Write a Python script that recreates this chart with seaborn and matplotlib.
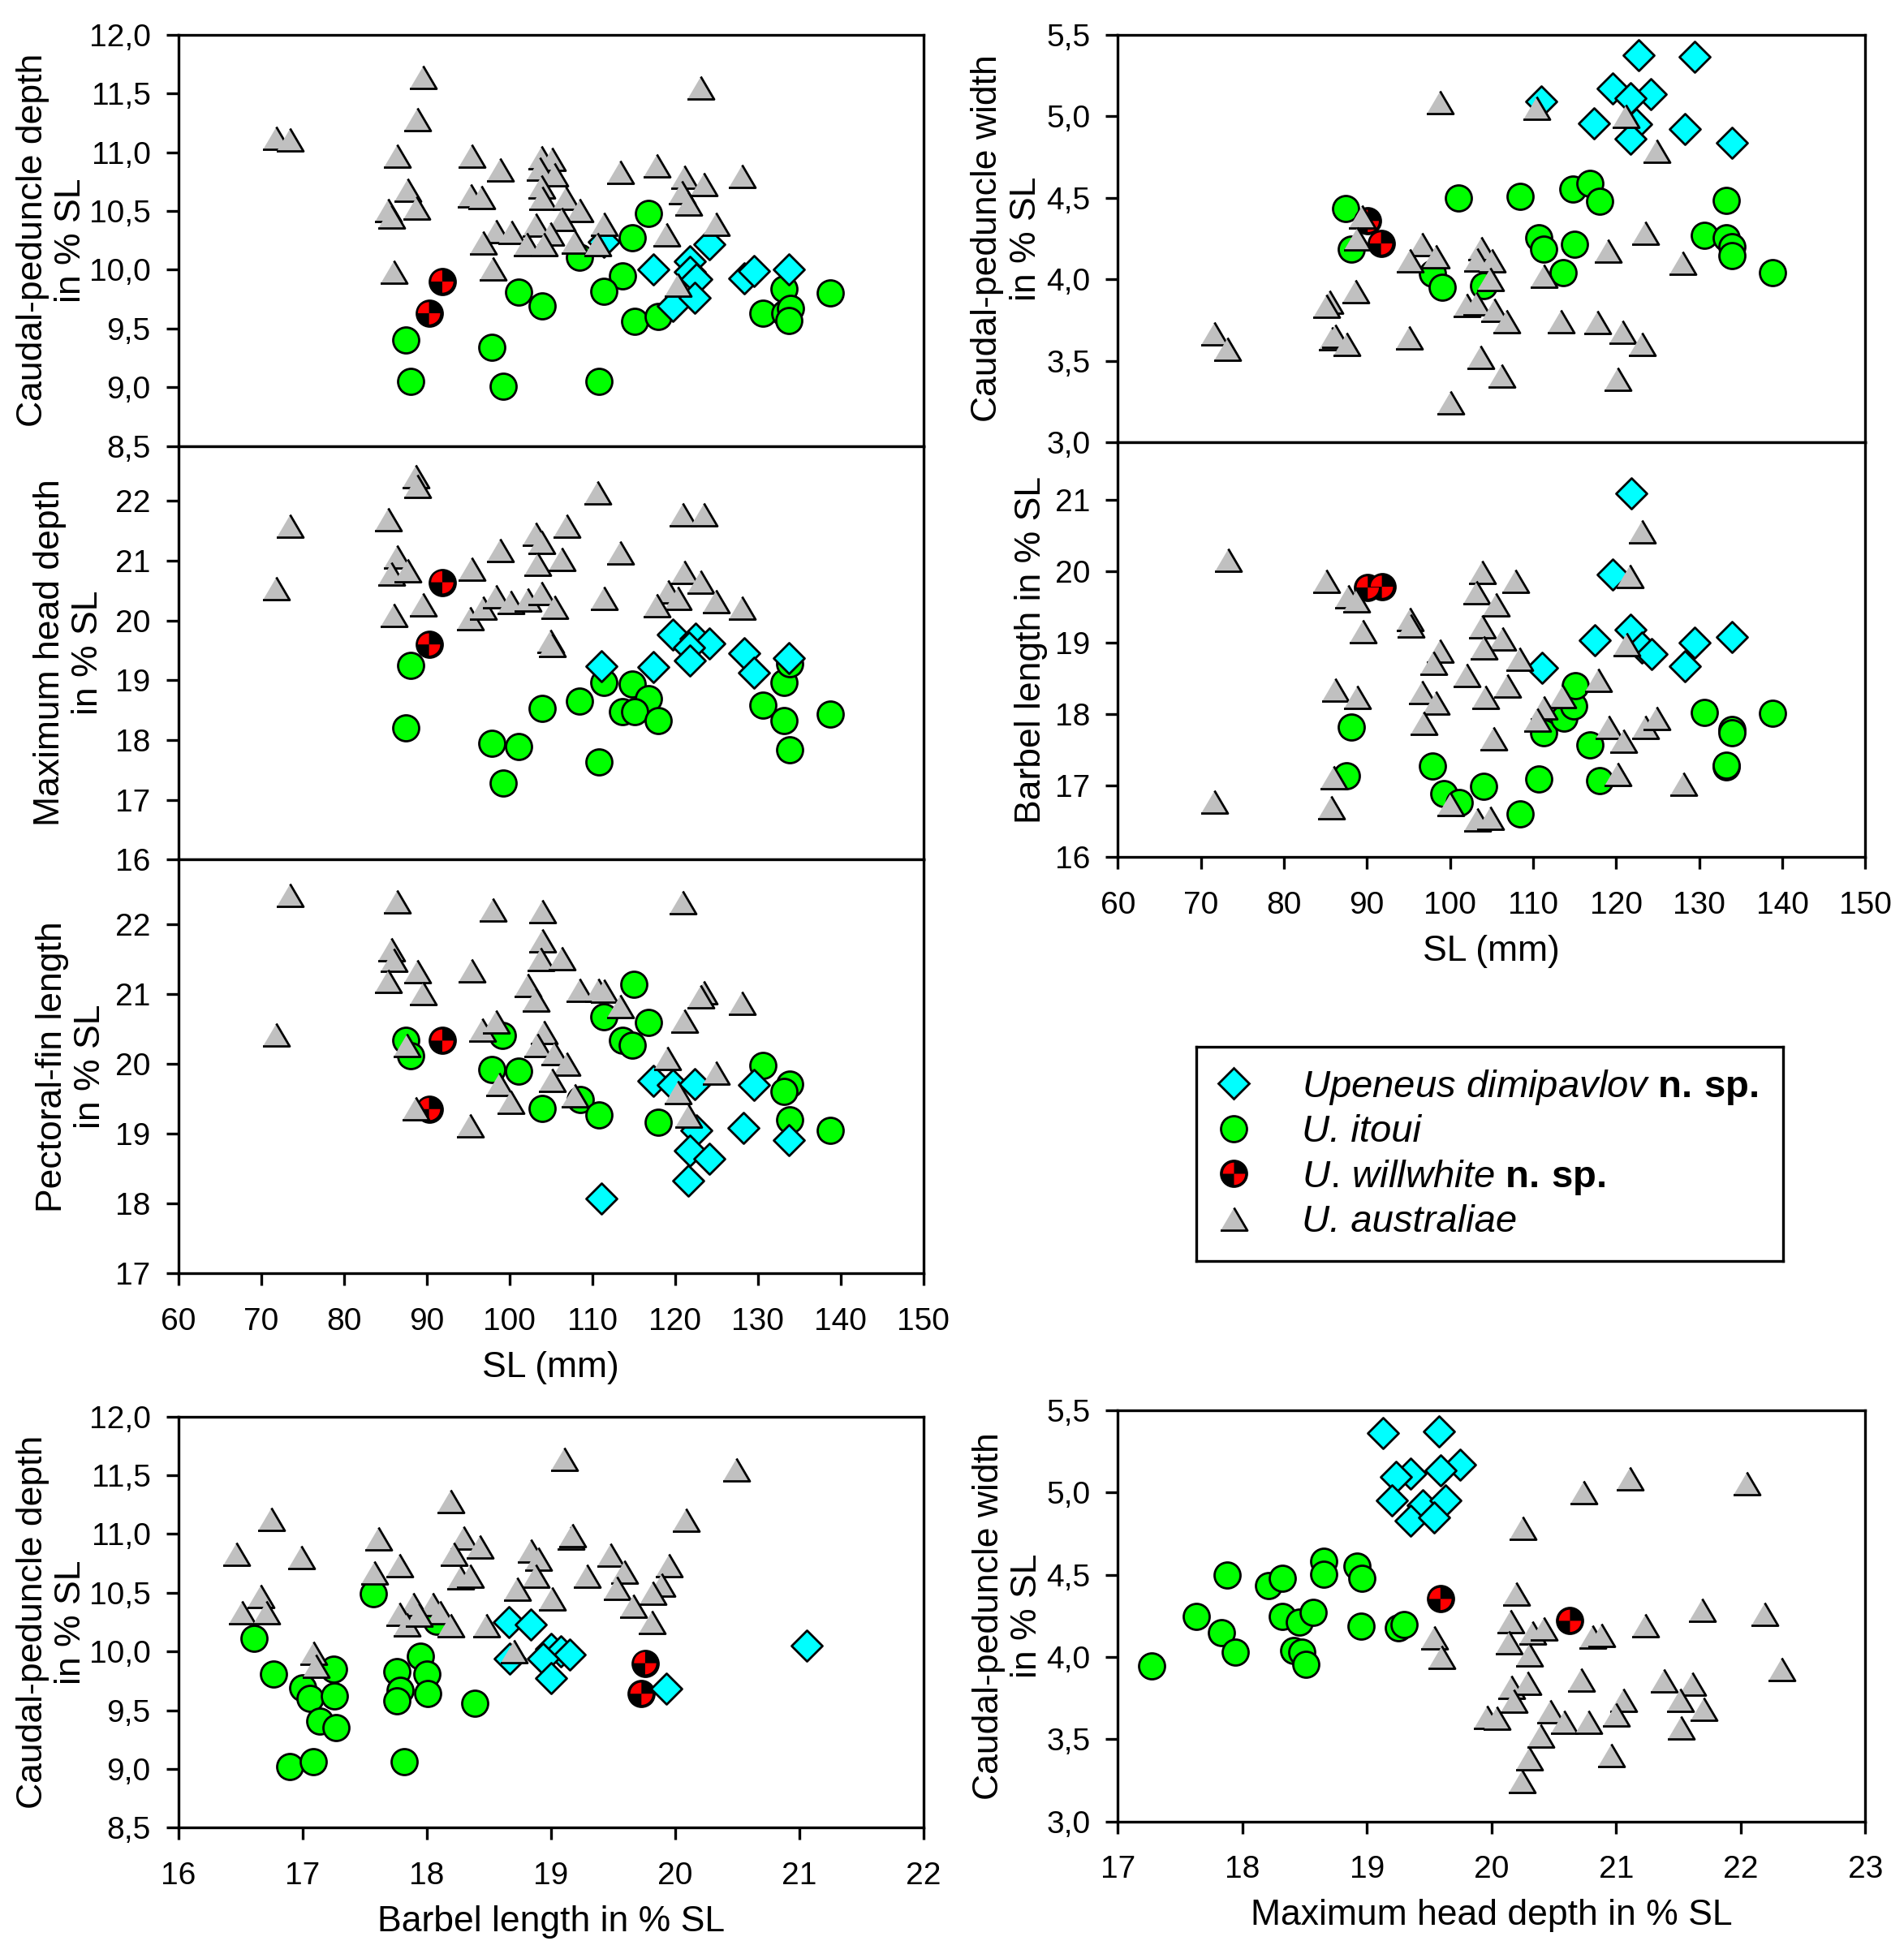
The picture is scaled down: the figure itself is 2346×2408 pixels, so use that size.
import numpy as np
import matplotlib
matplotlib.use("Agg")
import matplotlib.pyplot as plt
from matplotlib.path import Path
from matplotlib.lines import Line2D
from matplotlib.ticker import FuncFormatter
import seaborn as sns

sns.set_style("ticks", {"axes.edgecolor": "black", "xtick.color": "black",
                        "ytick.color": "black", "text.color": "black",
                        "axes.labelcolor": "black"})
plt.rcParams["font.family"] = ["Liberation Sans", "DejaVu Sans"]
plt.rcParams["mathtext.fontset"] = "custom"
plt.rcParams["mathtext.rm"] = "Liberation Sans"
plt.rcParams["mathtext.it"] = "Liberation Sans:italic"
plt.rcParams["mathtext.bf"] = "Liberation Sans:bold"

# ---------------- data ----------------
# caudal-peduncle depth (% SL) vs SL (mm)
cpd_sl_dimi = [(117.4, 10.00), (121.8, 10.07), (121.8, 9.98), (122.6, 9.92), (124.2, 10.22), (119.7, 9.69),
               (122.4, 9.76), (128.4, 9.93), (129.5, 9.99), (133.8, 10.00), (111.4, 10.24)]
cpd_sl_itoui = [(116.8, 10.48), (114.8, 10.27), (108.5, 10.11), (113.7, 9.95), (111.4, 9.82), (101.1, 9.81),
                (104.0, 9.69), (115.1, 9.56), (118.0, 9.60), (133.2, 9.84), (130.6, 9.63), (133.3, 9.63),
                (134.0, 9.67), (133.8, 9.57), (138.8, 9.80), (87.5, 9.40), (97.9, 9.34), (88.1, 9.05),
                (99.3, 9.01), (110.8, 9.05)]
cpd_sl_will = [(91.9, 9.90), (90.3, 9.63)]
cpd_sl_aus = [(71.8, 11.12), (73.5, 11.11), (89.6, 11.64), (88.9, 11.28), (86.4, 10.97), (87.7, 10.68),
              (88.8, 10.53), (85.3, 10.51), (85.7, 10.45), (86.0, 9.98), (95.4, 10.97), (95.3, 10.63),
              (96.6, 10.62), (98.9, 10.85), (98.0, 10.01), (98.4, 10.33), (100.2, 10.32), (96.8, 10.23),
              (103.9, 10.96), (105.1, 10.94), (103.7, 10.86), (105.4, 10.81), (103.9, 10.71), (104.0, 10.61),
              (106.8, 10.61), (108.5, 10.51), (106.3, 10.43), (103.2, 10.38), (104.9, 10.31), (102.1, 10.22),
              (104.2, 10.22), (107.9, 10.24), (111.4, 10.39), (110.6, 10.22), (113.4, 10.83), (117.8, 10.89),
              (121.1, 10.79), (123.5, 10.73), (120.8, 10.66), (121.6, 10.56), (128.1, 10.80), (123.1, 11.55),
              (119.0, 10.30), (124.9, 10.39), (120.3, 9.87)]

# maximum head depth (% SL) vs SL
mhd_sl_dimi = [(111.1, 19.24), (117.4, 19.22), (119.7, 19.77), (122.5, 19.70), (124.2, 19.61), (121.7, 19.55),
               (121.8, 19.33), (128.4, 19.46), (129.5, 19.13), (133.8, 19.37)]
mhd_sl_itoui = [(88.1, 19.25), (87.5, 18.21), (97.9, 17.94), (101.1, 17.89), (99.3, 17.28), (104.0, 18.53),
                (108.5, 18.65), (110.8, 17.63), (111.4, 18.96), (114.8, 18.94), (116.8, 18.69), (113.7, 18.48),
                (115.1, 18.47), (118.0, 18.32), (133.2, 18.97), (130.6, 18.59), (133.2, 18.33), (133.9, 17.84),
                (138.8, 18.43), (133.9, 19.28)]
mhd_sl_will = [(91.9, 20.64), (90.3, 19.60)]
mhd_sl_aus = [(71.8, 20.54), (73.5, 21.59), (88.7, 22.41), (88.9, 22.25), (85.3, 21.69), (86.4, 21.07),
              (85.7, 20.78), (87.7, 20.84), (89.6, 20.27), (86.0, 20.09), (95.4, 20.87), (95.2, 20.04),
              (96.8, 20.22), (98.4, 20.40), (100.1, 20.31), (102.2, 20.35), (103.9, 20.46), (105.4, 20.23),
              (98.9, 21.18), (103.2, 21.45), (103.9, 21.31), (106.9, 21.59), (103.4, 20.94), (106.3, 21.03),
              (104.9, 19.66), (105.1, 19.59), (110.6, 22.14), (113.4, 21.14), (111.4, 20.38), (120.9, 21.78),
              (123.5, 21.77), (121.1, 20.81), (123.1, 20.65), (119.2, 20.48), (120.3, 20.37), (117.8, 20.25),
              (124.9, 20.32), (128.1, 20.21)]

# pectoral-fin length (% SL) vs SL
pfl_sl_dimi = [(111.1, 18.07), (117.4, 19.75), (119.7, 19.69), (122.4, 19.71), (129.5, 19.69), (122.6, 19.04),
               (121.8, 18.76), (124.2, 18.64), (121.6, 18.32), (128.3, 19.08), (133.8, 18.91)]
pfl_sl_itoui = [(115.0, 21.14), (111.4, 20.67), (116.8, 20.59), (113.7, 20.33), (114.8, 20.27), (99.2, 20.40),
                (87.5, 20.34), (88.1, 20.11), (97.9, 19.92), (101.1, 19.89), (104.0, 19.36), (108.6, 19.49),
                (110.8, 19.27), (118.0, 19.16), (130.6, 19.97), (133.9, 19.71), (133.2, 19.60), (133.9, 19.20),
                (138.8, 19.04)]
pfl_sl_will = [(91.9, 20.33), (90.3, 19.35)]
pfl_sl_aus = [(73.5, 22.41), (71.8, 20.42), (86.4, 22.32), (85.7, 21.64), (86.0, 21.48), (85.3, 21.18),
              (88.9, 21.32), (89.6, 21.01), (87.6, 20.27), (88.7, 19.36), (98.0, 22.20), (104.0, 22.18),
              (104.0, 21.76), (103.8, 21.50), (106.3, 21.51), (95.4, 21.33), (102.2, 21.13), (103.2, 20.92),
              (108.5, 21.06), (110.7, 21.06), (111.4, 21.04), (113.4, 20.82), (96.7, 20.49), (98.4, 20.60),
              (104.2, 20.45), (103.4, 20.27), (105.4, 20.15), (106.9, 20.00), (105.1, 19.76), (98.8, 19.71),
              (100.1, 19.45), (95.2, 19.12), (107.9, 19.54), (120.9, 22.31), (123.5, 21.02), (123.1, 20.96),
              (128.1, 20.87), (121.1, 20.61), (119.1, 20.08), (120.3, 19.59), (121.6, 19.26), (124.9, 19.87)]

# caudal-peduncle width (% SL) vs SL
cpw_sl_dimi = [(122.7, 5.376), (129.5, 5.364), (119.6, 5.17), (124.2, 5.136), (121.7, 5.114), (111.0, 5.094),
               (117.3, 4.957), (122.4, 4.954), (128.3, 4.92), (121.7, 4.863), (133.9, 4.838)]
cpw_sl_itoui = [(87.4, 4.435), (88.1, 4.184), (101.0, 4.50), (108.4, 4.507), (114.8, 4.553), (116.8, 4.589),
                (118.0, 4.479), (133.3, 4.482), (110.7, 4.253), (111.3, 4.187), (115.0, 4.217), (130.6, 4.271),
                (133.3, 4.253), (133.9, 4.20), (133.9, 4.146), (113.6, 4.04), (97.9, 4.035), (99.1, 3.949),
                (104.0, 3.96), (138.8, 4.043)]
cpw_sl_will = [(90.1, 4.358), (91.7, 4.22)]
cpw_sl_aus = [(98.8, 5.089), (110.4, 5.053), (121.1, 5.003), (124.9, 4.788), (123.5, 4.286), (119.0, 4.176),
              (128.0, 4.101), (111.3, 4.022), (89.4, 4.383), (88.8, 4.25), (96.6, 4.217), (95.2, 4.118),
              (98.3, 4.142), (103.8, 4.192), (103.3, 4.121), (105.0, 4.114), (104.8, 4.002), (88.6, 3.927),
              (85.5, 3.861), (85.1, 3.836), (102.0, 3.844), (103.2, 3.853), (105.3, 3.811), (106.8, 3.74),
              (113.3, 3.74), (117.7, 3.737), (120.8, 3.679), (123.1, 3.601), (71.6, 3.667), (73.2, 3.571),
              (85.8, 3.637), (86.2, 3.654), (87.5, 3.601), (95.1, 3.641), (103.7, 3.522), (106.2, 3.406),
              (120.2, 3.389), (100.0, 3.243)]

# barbel length (% SL) vs SL
bl_sl_dimi = [(121.8, 21.09), (119.6, 19.95), (121.7, 19.18), (117.4, 19.03), (123.1, 18.93), (124.3, 18.84),
              (129.5, 19.00), (133.9, 19.08), (128.3, 18.67), (111.1, 18.65)]
bl_sl_itoui = [(88.1, 17.82), (87.5, 17.14), (97.9, 17.27), (99.3, 16.89), (101.1, 16.76), (104.0, 16.99),
               (108.4, 16.60), (110.7, 17.09), (118.0, 17.07), (116.8, 17.57), (111.3, 17.74), (113.7, 17.94),
               (114.9, 18.11), (115.1, 18.40), (130.6, 18.02), (133.9, 17.78), (133.9, 17.74), (133.3, 17.26),
               (133.3, 17.28), (138.8, 18.01)]
bl_sl_will = [(90.1, 19.77), (91.8, 19.78)]
bl_sl_aus = [(73.3, 20.15), (71.6, 16.78), (85.1, 19.86), (87.7, 19.64), (88.7, 19.59), (89.5, 19.16),
             (86.2, 18.34), (88.8, 18.24), (86.0, 17.12), (85.7, 16.70), (95.2, 19.33), (95.3, 19.24),
             (103.9, 19.99), (103.2, 19.70), (105.5, 19.53), (107.9, 19.86), (103.9, 19.22), (106.3, 19.06),
             (104.0, 18.93), (98.8, 18.89), (98.0, 18.72), (108.3, 18.77), (102.0, 18.54), (106.9, 18.40),
             (96.6, 18.31), (98.3, 18.16), (104.2, 18.24), (96.8, 17.87), (105.2, 17.66), (100.0, 16.74),
             (103.3, 16.52), (104.8, 16.55), (123.1, 20.55), (121.6, 19.93), (121.2, 18.97), (117.8, 18.48),
             (113.5, 18.25), (111.3, 18.09), (110.5, 17.92), (119.1, 17.82), (120.9, 17.63), (123.5, 17.82),
             (124.9, 17.94), (120.2, 17.16), (128.1, 17.03)]

# caudal-peduncle depth vs barbel length (both % SL)
cpd_bl_dimi = [(18.66, 10.25), (18.84, 10.23), (18.67, 9.94), (19.00, 10.02), (19.08, 10.00), (19.15, 9.97),
               (18.94, 9.94), (19.00, 9.77), (19.93, 9.68), (21.06, 10.05)]
cpd_bl_itoui = [(17.57, 10.49), (16.61, 10.11), (16.77, 9.81), (17.00, 9.69), (17.06, 9.60), (17.25, 9.85),
                (17.26, 9.62), (17.14, 9.41), (17.27, 9.35), (16.90, 9.02), (17.09, 9.06), (17.76, 9.83),
                (17.95, 9.96), (18.00, 9.81), (17.79, 9.67), (17.76, 9.58), (18.01, 9.64), (18.39, 9.56),
                (17.82, 9.06), (18.08, 10.26)]
cpd_bl_will = [(19.76, 9.90), (19.73, 9.64)]
cpd_bl_aus = [(19.11, 11.64), (20.49, 11.55), (18.19, 11.28), (16.75, 11.13), (20.09, 11.12), (16.47, 10.83),
              (16.99, 10.80), (17.61, 10.96), (18.30, 10.97), (18.43, 10.89), (18.22, 10.83), (17.78, 10.73),
              (17.58, 10.67), (18.27, 10.63), (18.35, 10.64), (18.84, 10.86), (18.90, 10.79), (18.88, 10.64),
              (18.73, 10.53), (19.01, 10.45), (19.16, 10.97), (19.17, 10.99), (19.48, 10.82), (19.59, 10.68),
              (19.29, 10.64), (19.53, 10.54), (19.95, 10.73), (19.89, 10.57), (19.82, 10.50), (19.66, 10.39),
              (19.81, 10.25), (16.66, 10.47), (16.51, 10.33), (16.71, 10.33), (17.89, 10.40), (18.05, 10.40),
              (17.78, 10.32), (18.11, 10.33), (17.84, 10.23), (18.19, 10.22), (18.48, 10.22), (17.09, 9.99),
              (17.11, 9.88), (18.70, 10.00), (17.94, 10.31)]

# caudal-peduncle width vs maximum head depth (both % SL)
cpw_mhd_dimi = [(19.13, 5.363), (19.58, 5.374), (19.75, 5.169), (19.35, 5.114), (19.23, 5.093), (19.59, 5.136),
                (19.20, 4.954), (19.45, 4.924), (19.63, 4.954), (19.35, 4.828), (19.54, 4.849)]
cpw_mhd_itoui = [(17.27, 3.947), (17.63, 4.248), (17.83, 4.149), (17.94, 4.030), (17.88, 4.50), (18.21, 4.432),
                 (18.32, 4.48), (18.32, 4.248), (18.46, 4.212), (18.57, 4.270), (18.41, 4.038), (18.48, 4.030),
                 (18.51, 3.955), (18.65, 4.584), (18.65, 4.502), (18.92, 4.551), (18.96, 4.477), (18.95, 4.187),
                 (19.25, 4.179), (19.30, 4.199)]
cpw_mhd_will = [(19.59, 4.353), (20.63, 4.220)]
cpw_mhd_aus = [(20.74, 5.002), (21.11, 5.084), (22.05, 5.056), (20.25, 4.786), (20.20, 4.386), (20.15, 4.215),
               (20.33, 4.146), (20.42, 4.171), (20.14, 4.091), (20.30, 4.013), (20.81, 4.124), (20.88, 4.132),
               (21.23, 4.190), (21.69, 4.287), (22.19, 4.262), (19.54, 4.116), (19.60, 3.999), (22.33, 3.925),
               (20.72, 3.864), (20.16, 3.815), (20.29, 3.844), (20.18, 3.735), (21.38, 3.859), (21.61, 3.839),
               (21.06, 3.737), (21.51, 3.740), (21.70, 3.682), (21.00, 3.649), (21.52, 3.570), (20.47, 3.670),
               (20.58, 3.603), (20.78, 3.603), (19.96, 3.636), (20.04, 3.632), (20.39, 3.520), (20.96, 3.404),
               (20.30, 3.384), (20.24, 3.243)]

# legend labels: italic species names, "n. sp." in bold
species_labels = [r"$\mathit{Upeneus\ dimipavlov}$ $\mathbf{n.\,sp.}$",
                  "U. itoui",
                  r"$\mathit{U.\,willwhite}$ $\mathbf{n.\,sp.}$",
                  "U. australiae"]

sl_ticks = list(range(60, 151, 10))

# ---------------- styling ----------------
CYAN, GREEN, GREY, RED = "#00ffff", "#00ff00", "#c0c0c0", "#ff0000"
TRI = [(-1, -0.85), (1, -0.85), (0, 0.85)]
WEDGE_A = Path.wedge(90, 180)
WEDGE_B = Path.wedge(270, 360)
EW = 2.0
TICK_FS, LABEL_FS, LEG_FS = 28, 32, 34

W, H = 2346, 2408
fig = plt.figure(figsize=(W / 100, H / 100), dpi=100)


def box(l, t, r, b):
    return fig.add_axes([l / W, 1 - b / H, (r - l) / W, (b - t) / H])


def comma(v, p):
    return f"{v:.1f}".replace(".", ",")


def scatter(ax, pts, **kw):
    x, y = zip(*pts)
    sns.scatterplot(x=list(x), y=list(y), ax=ax, legend=False, **kw)


def panel(ax, dimi, itoui, will, aus):
    scatter(ax, itoui, marker="o", s=530, color=GREEN, edgecolor="black", linewidth=EW, zorder=3)
    scatter(ax, will, marker="o", s=530, color="black", edgecolor="black", linewidth=EW, zorder=4)
    scatter(ax, will, marker=WEDGE_A, s=390, color=RED, edgecolor="none", linewidth=0, zorder=4.1)
    scatter(ax, will, marker=WEDGE_B, s=390, color=RED, edgecolor="none", linewidth=0, zorder=4.1)
    scatter(ax, dimi, marker="D", s=375, color=CYAN, edgecolor="black", linewidth=EW, zorder=5)
    scatter(ax, aus, marker=TRI, s=565, color=GREY, edgecolor="black", linewidth=EW, zorder=6)


def setup(ax, xlim, xticks, ylim, yticks, ylabel, labelpad, decimal, xlabel=None, show_x=True):
    ax.set_xlim(*xlim)
    ax.set_ylim(*ylim)
    ax.set_xticks(xticks)
    ax.set_yticks(yticks)
    if decimal:
        ax.yaxis.set_major_formatter(FuncFormatter(comma))
    for s in ax.spines.values():
        s.set_linewidth(2.4)
        s.set_color("black")
    ax.tick_params(axis="both", direction="out", length=10.5, width=2.4,
                   labelsize=TICK_FS, right=False, top=False)
    ax.tick_params(axis="y", pad=14)
    ax.tick_params(axis="x", pad=19.5)
    if not show_x:
        ax.tick_params(axis="x", bottom=False, labelbottom=False)
    ax.set_ylabel(ylabel, fontsize=LABEL_FS, labelpad=labelpad, linespacing=1.2)
    ax.set_xlabel(xlabel if xlabel else "", fontsize=LABEL_FS, labelpad=13)
    ax.minorticks_off()


# left column: three panels stacked on SL
ax1 = box(219.5, 43, 1137.7, 549.6)
panel(ax1, cpd_sl_dimi, cpd_sl_itoui, cpd_sl_will, cpd_sl_aus)
setup(ax1, (60, 150), sl_ticks, (8.5, 12.0), np.arange(8.5, 12.01, 0.5),
      "Caudal-peduncle depth\nin % SL", 1, True, show_x=False)

ax2 = box(219.5, 549.6, 1137.7, 1059.4)
panel(ax2, mhd_sl_dimi, mhd_sl_itoui, mhd_sl_will, mhd_sl_aus)
setup(ax2, (60, 150), sl_ticks, (16, 22.92), range(16, 23),
      "Maximum head depth\nin % SL", 9, False, show_x=False)

ax3 = box(219.5, 1059.4, 1137.7, 1569.1)
panel(ax3, pfl_sl_dimi, pfl_sl_itoui, pfl_sl_will, pfl_sl_aus)
setup(ax3, (60, 150), sl_ticks, (17, 22.92), range(17, 23),
      "Pectoral-fin length\nin % SL", 7, False, xlabel="SL (mm)")

# right column: two panels stacked on SL
ax4 = box(1377.2, 43, 2298.3, 545)
panel(ax4, cpw_sl_dimi, cpw_sl_itoui, cpw_sl_will, cpw_sl_aus)
setup(ax4, (60, 150), sl_ticks, (3.0, 5.5), np.arange(3.0, 5.51, 0.5),
      "Caudal-peduncle width\nin % SL", 3, True, show_x=False)

ax5 = box(1377.2, 545, 2298.3, 1056.3)
panel(ax5, bl_sl_dimi, bl_sl_itoui, bl_sl_will, bl_sl_aus)
setup(ax5, (60, 150), sl_ticks, (16, 21.8), range(16, 22),
      "Barbel length in % SL", 6, False, xlabel="SL (mm)")

# bottom row
ax6 = box(219.5, 1745.6, 1137.7, 2252.3)
panel(ax6, cpd_bl_dimi, cpd_bl_itoui, cpd_bl_will, cpd_bl_aus)
setup(ax6, (16, 22), range(16, 23), (8.5, 12.0), np.arange(8.5, 12.01, 0.5),
      "Caudal-peduncle depth\nin % SL", 1, True, xlabel="Barbel length in % SL")

ax7 = box(1377.2, 1738, 2298.3, 2244.6)
panel(ax7, cpw_mhd_dimi, cpw_mhd_itoui, cpw_mhd_will, cpw_mhd_aus)
setup(ax7, (17, 23), range(17, 24), (3.0, 5.5), np.arange(3.0, 5.51, 0.5),
      "Caudal-peduncle width\nin % SL", 2, True, xlabel="Maximum head depth in % SL")

# legend box
axl = box(1474, 1290, 2197, 1554)
axl.set_xticks([])
axl.set_yticks([])
for s in axl.spines.values():
    s.set_linewidth(2.4)
    s.set_color("black")

h_dimi = Line2D([], [], ls="none", marker="D", ms=19.4, mfc=CYAN, mec="black", mew=EW)
h_itoui = Line2D([], [], ls="none", marker="o", ms=23, mfc=GREEN, mec="black", mew=EW)
h_will = (Line2D([], [], ls="none", marker="o", ms=23, mfc="black", mec="black", mew=EW),
          Line2D([], [], ls="none", marker=WEDGE_A, ms=19.8, mfc=RED, mec="none", mew=0),
          Line2D([], [], ls="none", marker=WEDGE_B, ms=19.8, mfc=RED, mec="none", mew=0))
h_aus = Line2D([], [], ls="none", marker=TRI, ms=23.8, mfc=GREY, mec="black", mew=EW)

leg = axl.legend([h_dimi, h_itoui, h_will, h_aus], species_labels, loc="center left",
                 bbox_to_anchor=(0, 0.5), frameon=False, fontsize=LEG_FS, borderaxespad=0,
                 borderpad=0.3, handlelength=1.36, handletextpad=1.1, labelspacing=0.2)
for t in leg.get_texts():
    t.set_fontstyle("italic")

fig.savefig("out.png", dpi=100)
